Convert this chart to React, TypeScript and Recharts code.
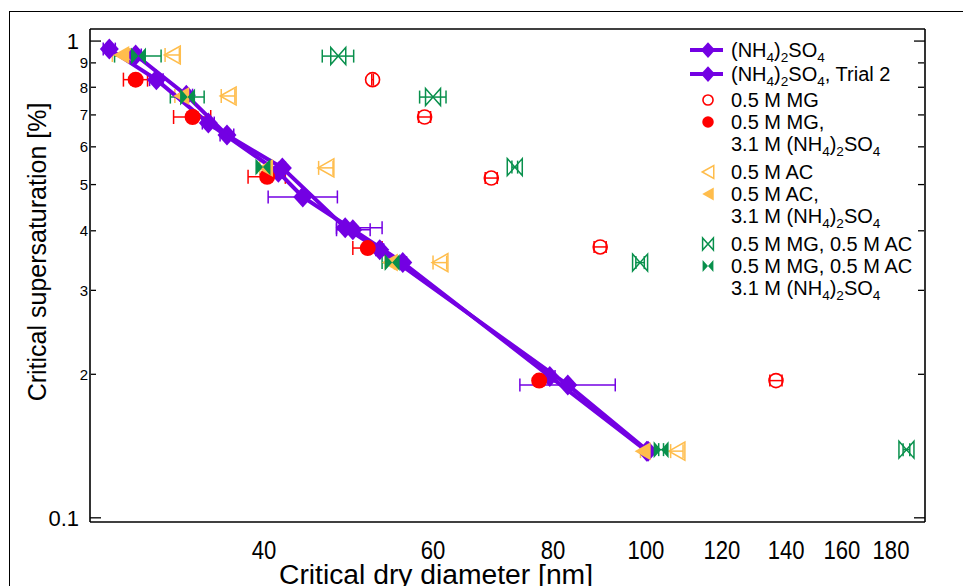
import React from "react";
import { ComposedChart, Scatter, XAxis, YAxis, ErrorBar } from "recharts";

const FONT = '"Liberation Sans", Arial, sans-serif';
const PURPLE = "#7300E3";
const RED = "#FF0000";
const ORANGE = "#FFBD4C";
const GREEN = "#08904C";

// axes
const xTicks = [40, 60, 80, 100, 120, 140, 160, 180];
const yTicks = [0.1, 0.2, 0.3, 0.4, 0.5, 0.6, 0.7, 0.8, 0.9, 1];
const yTickLabels = ["0.1", "2", "3", "4", "5", "6", "7", "8", "9", "1"];
const yMajorTicks = [0.1, 1];
const yMinorTicks = [0.2, 0.3, 0.4, 0.5, 0.6, 0.7, 0.8, 0.9];
const xDomain = [26.35, 195.3];
const yDomain = [0.098, 1.06];

// (NH4)2SO4
const asDiam = [27.6, 30.9, 35.0, 41.4, 43.9, 49.5, 55.8, 79.4, 100.2];
const asSs = [0.962, 0.83, 0.673, 0.531, 0.471, 0.402, 0.343, 0.198, 0.138];
const asErr = [0.4, 0.5, 0.5, 0.4, [3.5, 3.8], [1.9, 2.1], 0.5, 1.0, 0];

// (NH4)2SO4, trial 2
const as2Diam = [29.4, 33.2, 36.6, 41.8, 48.6, 52.8, 82.9, 100.5];
const as2Ss = [0.935, 0.77, 0.635, 0.542, 0.406, 0.365, 0.19, 0.138];
const as2Err = [0.4, 0.5, 0.6, 0.3, [1.0, 4.5], 0.5, [9.0, 10.0], 0];

// 0.5 M MG
const mgDiam = [51.9, 58.8, 69.0, 89.6, 136.6];
const mgSs = [0.83, 0.693, 0.516, 0.37, 0.194];
const mgErr = [0.1, 0.85, 1.0, 1.3, 2.0];

// 0.5 M MG, 3.1 M (NH4)2SO4
const mgAsDiam = [29.4, 33.7, 40.3, 51.3, 77.4];
const mgAsSs = [0.83, 0.693, 0.519, 0.368, 0.194];
const mgAsErr = [0.85, 1.5, 1.8, 1.8, 0.3];

// 0.5 M AC
const acDiam = [32.1, 36.7, 46.4, 61.0, 107.7];
const acSs = [0.935, 0.767, 0.542, 0.343, 0.138];
const acErr = [0.55, 0.6, 0.8, 1.0, 1.6];

// 0.5 M AC, 3.1 M (NH4)2SO4
const acAsDiam = [28.4, 32.8, 40.1, 54.1, 99.2];
const acAsSs = [0.935, 0.767, 0.542, 0.343, 0.138];
const acAsErr = [0.6, 0.5, 0.5, 0.6, 0.5];

// 0.5 M MG, 0.5 M AC
const mgacDiam = [47.8, 60.0, 73.0, 98.6, 186.8];
const mgacSs = [0.93, 0.763, 0.544, 0.343, 0.139];
const mgacErr = [1.8, 1.9, 0.5, 1.0, 1.5];

// 0.5 M MG, 0.5 M AC, 3.1 M (NH4)2SO4
const mgacAsDiam = [29.6, 33.3, 39.9, 54.4, 103.7];
const mgacAsSs = [0.93, 0.763, 0.544, 0.343, 0.139];
const mgacAsErr = [1.65, 1.35, 0.6, 1.3, 0.6];

const legendLabels = [
  ["(NH4)2SO4"],
  ["(NH4)2SO4, Trial 2"],
  ["0.5 M MG"],
  ["0.5 M MG,", "3.1 M (NH4)2SO4"],
  ["0.5 M AC"],
  ["0.5 M AC,", "3.1 M (NH4)2SO4"],
  ["0.5 M MG, 0.5 M AC"],
  ["0.5 M MG, 0.5 M AC", "3.1 M (NH4)2SO4"],
];

type Pt = { d: number; s: number; err: number | number[] };
const pts = (d: number[], s: number[], e: (number | number[])[]): Pt[] =>
  d.map((v, i) => ({ d: v, s: s[i], err: e[i] }));

type Marker = (cx: number, cy: number, k?: number) => React.ReactElement;

const diamond = (color: string): Marker => (cx, cy, k = 1) => (
  <path
    d={`M${cx},${cy - 10.5 * k}L${cx + 9.5 * k},${cy}L${cx},${cy + 10.5 * k}L${cx - 9.5 * k},${cy}Z`}
    fill={color}
  />
);
const circle = (color: string, filled: boolean): Marker => (cx, cy, k = 1) => (
  <circle
    cx={cx}
    cy={cy}
    r={(filled ? 8 : 7) * k}
    fill={filled ? color : "none"}
    stroke={color}
    strokeWidth={filled ? 0 : 1.6}
  />
);
const triangle = (color: string, filled: boolean): Marker => (cx, cy, k = 1) => {
  const w = 16 * k;
  const h = 18 * k;
  return (
    <polygon
      points={`${cx - w / 2},${cy} ${cx + w / 2},${cy - h / 2} ${cx + w / 2},${cy + h / 2}`}
      fill={filled ? color : "none"}
      stroke={color}
      strokeWidth={filled ? 0 : 1.5}
    />
  );
};
const bowtie = (color: string, filled: boolean): Marker => (cx, cy, k = 1) => {
  const w = 15 * k;
  const h = 17 * k;
  return (
    <path
      d={`M${cx - w / 2},${cy - h / 2}L${cx + w / 2},${cy + h / 2}L${cx + w / 2},${cy - h / 2}L${cx - w / 2},${cy + h / 2}Z`}
      fill={filled ? color : "none"}
      stroke={color}
      strokeWidth={filled ? 0 : 1.5}
    />
  );
};

const series = [
  { id: "as2", data: pts(as2Diam, as2Ss, as2Err), color: PURPLE, marker: diamond(PURPLE), line: true, cap: 6.5 },
  { id: "as", data: pts(asDiam, asSs, asErr), color: PURPLE, marker: diamond(PURPLE), line: true, cap: 6.5 },
  { id: "mg", data: pts(mgDiam, mgSs, mgErr), color: RED, marker: circle(RED, false), line: false, cap: 6 },
  { id: "mgAs", data: pts(mgAsDiam, mgAsSs, mgAsErr), color: RED, marker: circle(RED, true), line: false, cap: 7 },
  { id: "ac", data: pts(acDiam, acSs, acErr), color: ORANGE, marker: triangle(ORANGE, false), line: false, cap: 7 },
  { id: "acAs", data: pts(acAsDiam, acAsSs, acAsErr), color: ORANGE, marker: triangle(ORANGE, true), line: false, cap: 7 },
  { id: "mgac", data: pts(mgacDiam, mgacSs, mgacErr), color: GREEN, marker: bowtie(GREEN, false), line: false, cap: 6.5 },
  { id: "mgacAs", data: pts(mgacAsDiam, mgacAsSs, mgacAsErr), color: GREEN, marker: bowtie(GREEN, true), line: false, cap: 6.5 },
];

const legendMarkers: { marker: Marker; line?: string }[] = [
  { marker: diamond(PURPLE), line: PURPLE },
  { marker: diamond(PURPLE), line: PURPLE },
  { marker: circle(RED, false) },
  { marker: circle(RED, true) },
  { marker: triangle(ORANGE, false) },
  { marker: triangle(ORANGE, true) },
  { marker: bowtie(GREEN, false) },
  { marker: bowtie(GREEN, true) },
];
const legendGaps = [0, 2, 4, 0, 6, 0, 6, 0];

const frame = { stroke: "#000", strokeWidth: 1.6 };
const tickStroke = { stroke: "#000", strokeWidth: 1.3 };

const NoTick = () => null;

const XTickLabel = ({ x, y, payload }: any) => {
  const s = String(payload.value);
  return (
    <text
      x={x}
      y={y + 37}
      textAnchor="middle"
      fontFamily={FONT}
      fontSize={25}
      textLength={s.length * 12.3}
      lengthAdjust="spacingAndGlyphs"
      fill="#000"
    >
      {s}
    </text>
  );
};

const YTickLabel = ({ x, y, payload }: any) => {
  const i = yTicks.indexOf(payload.value);
  const major = yMajorTicks.includes(payload.value);
  return (
    <text
      x={x - (major ? 11 : 2)}
      y={y}
      dy={major ? 8 : 5.4}
      textAnchor="end"
      fontFamily={FONT}
      fontSize={major ? 22 : 15}
      fill="#000"
    >
      {yTickLabels[i]}
    </text>
  );
};

const XTitle = ({ viewBox }: any) => {
  const vb = viewBox ?? { x: 90, y: 522 };
  return (
    <text
      x={vb.x + 346}
      y={vb.y + 62}
      textAnchor="middle"
      fontFamily={FONT}
      fontSize={27}
      textLength={314}
      lengthAdjust="spacingAndGlyphs"
      fill="#000"
    >
      Critical dry diameter [nm]
    </text>
  );
};

const YTitle = ({ viewBox }: any) => {
  const vb = viewBox ?? { x: 20, y: 29 };
  const cx = vb.x + 17;
  const cy = vb.y + 223;
  return (
    <text
      x={cx}
      y={cy}
      transform={`rotate(-90 ${cx} ${cy})`}
      textAnchor="middle"
      dominantBaseline="central"
      fontFamily={FONT}
      fontSize={25}
      fill="#000"
    >
      Critical supersaturation [%]
    </text>
  );
};

const ChemText = ({ x, y, text, size }: { x: number; y: number; text: string; size: number }) => {
  const parts = text.split(/((?<=[A-Z)])\d)/).filter((p) => p !== "");
  let shifted = false;
  return (
    <text x={x} y={y} fontFamily={FONT} fontSize={size} fill="#000">
      {parts.map((p, i) => {
        const sub = /^\d$/.test(p);
        const dy = sub ? (shifted ? 0 : 5) : shifted ? -5 : 0;
        shifted = sub;
        return (
          <tspan key={i} dy={dy} fontSize={sub ? size * 0.68 : size}>
            {p}
          </tspan>
        );
      })}
    </text>
  );
};

const ChartLegend = () => {
  const markerX = 708;
  const textX = 731;
  const pitch = 22;
  let y = 50 - pitch;
  return (
    <svg style={{ position: "absolute", left: 0, top: 0 }} width={963} height={586}>
      {legendLabels.map((lines, i) => {
        y += pitch + legendGaps[i];
        const rowY = y;
        y += (lines.length - 1) * pitch;
        const m = legendMarkers[i];
        return (
          <g key={i}>
            {m.line && (
              <line x1={markerX - 18} y1={rowY} x2={markerX + 15} y2={rowY} stroke={m.line} strokeWidth={4} />
            )}
            {m.marker(markerX, rowY, m.line ? 0.75 : 0.72)}
            {lines.map((t, j) => (
              <ChemText key={j} x={textX} y={rowY + j * pitch + 7} text={t} size={20} />
            ))}
          </g>
        );
      })}
    </svg>
  );
};

export default function App() {
  return (
    <div
      style={{
        position: "fixed",
        left: 0,
        top: 0,
        width: 963,
        height: 586,
        overflow: "hidden",
        background: "#fff",
      }}
    >
      <div
        style={{
          position: "absolute",
          left: 9,
          top: 11,
          width: 1200,
          height: 1200,
          borderLeft: "1.5px solid #000",
          borderTop: "1.5px solid #000",
        }}
      />
      <div style={{ position: "absolute", left: 0, top: 0 }}>
        <ComposedChart width={963} height={600} margin={{ top: 29, right: 38, bottom: 28, left: 20 }}>
          <XAxis
            xAxisId="x"
            type="number"
            dataKey="d"
            scale="log"
            domain={xDomain}
            allowDataOverflow
            ticks={xTicks}
            interval={0}
            height={50}
            tickLine={false}
            tickSize={0}
            tickMargin={0}
            axisLine={frame}
            tick={<XTickLabel />}
            label={<XTitle />}
          />
          <XAxis
            xAxisId="xb"
            type="number"
            scale="log"
            domain={xDomain}
            allowDataOverflow
            ticks={xTicks}
            interval={0}
            mirror
            height={1}
            axisLine={false}
            tickSize={11}
            tickLine={tickStroke}
            tick={<NoTick />}
          />
          <XAxis
            xAxisId="xt"
            orientation="top"
            type="number"
            scale="log"
            domain={xDomain}
            allowDataOverflow
            ticks={xTicks}
            interval={0}
            mirror
            height={1}
            axisLine={frame}
            tickSize={12}
            tickLine={tickStroke}
            tick={<NoTick />}
          />
          <YAxis
            yAxisId="y"
            type="number"
            dataKey="s"
            scale="log"
            domain={yDomain}
            allowDataOverflow
            ticks={yTicks}
            interval={0}
            width={70}
            tickLine={false}
            tickSize={0}
            tickMargin={0}
            axisLine={frame}
            tick={<YTickLabel />}
            label={<YTitle />}
          />
          <YAxis
            yAxisId="ylmaj"
            type="number"
            scale="log"
            domain={yDomain}
            allowDataOverflow
            ticks={yMajorTicks}
            interval={0}
            mirror
            width={1}
            axisLine={false}
            tickSize={11}
            tickLine={tickStroke}
            tick={<NoTick />}
          />
          <YAxis
            yAxisId="ylmin"
            type="number"
            scale="log"
            domain={yDomain}
            allowDataOverflow
            ticks={yMinorTicks}
            interval={0}
            mirror
            width={1}
            axisLine={false}
            tickSize={5}
            tickLine={tickStroke}
            tick={<NoTick />}
          />
          <YAxis
            yAxisId="yrmaj"
            orientation="right"
            type="number"
            scale="log"
            domain={yDomain}
            allowDataOverflow
            ticks={yMajorTicks}
            interval={0}
            mirror
            width={1}
            axisLine={frame}
            tickSize={11}
            tickLine={tickStroke}
            tick={<NoTick />}
          />
          <YAxis
            yAxisId="yrmin"
            orientation="right"
            type="number"
            scale="log"
            domain={yDomain}
            allowDataOverflow
            ticks={yMinorTicks}
            interval={0}
            mirror
            width={1}
            axisLine={false}
            tickSize={6}
            tickLine={tickStroke}
            tick={<NoTick />}
          />
          {series.map((s) => (
            <Scatter
              key={s.id}
              xAxisId="x"
              yAxisId="y"
              data={s.data}
              fill={s.color}
              line={s.line ? { stroke: s.color, strokeWidth: 4 } : false}
              lineType="joint"
              shape={(p: any) => s.marker(p.cx, p.cy)}
              isAnimationActive={false}
            >
              <ErrorBar dataKey="err" direction="x" width={s.cap} stroke={s.color} strokeWidth={1.5} />
            </Scatter>
          ))}
        </ComposedChart>
      </div>
      <ChartLegend />
    </div>
  );
}
